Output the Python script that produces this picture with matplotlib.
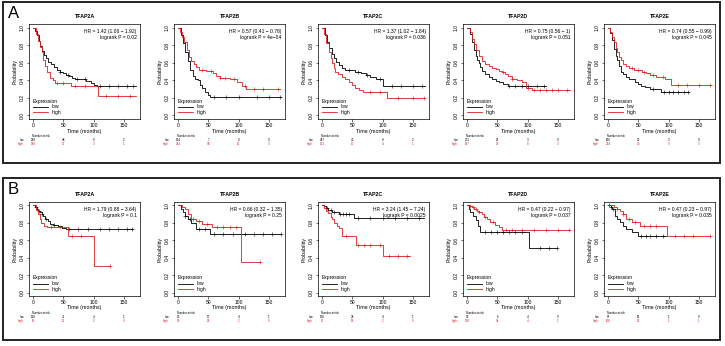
import numpy as np
import matplotlib
matplotlib.use('Agg')
import matplotlib.pyplot as plt
import matplotlib.transforms as mtransforms
from matplotlib.patches import Rectangle
from matplotlib.lines import Line2D

plt.rcParams['font.family'] = ['Liberation Sans', 'DejaVu Sans']

genes = ['TFAP2A', 'TFAP2B', 'TFAP2C', 'TFAP2D', 'TFAP2E']
risk_times = [0, 50, 100, 150]

# ---- panel A ----
A_hr = ['1.42 (1.06 \u2212 1.92)', '0.57 (0.41 \u2212 0.78)', '1.37 (1.02 \u2212 1.84)',
        '0.75 (0.56 \u2212 1)', '0.74 (0.55 \u2212 0.99)']
A_p = ['0.02', '4e\u221204', '0.036', '0.051', '0.045']
A_risk_low = [[258, 48, 8, 2], [134, 7, 0, 0], [247, 45, 8, 2], [201, 26, 3, 0], [160, 20, 3, 0]]
A_risk_high = [[140, 17, 3, 1], [264, 58, 11, 3], [151, 17, 4, 1], [197, 39, 8, 3], [224, 43, 9, 3]]

A1_low_t = [0, 3, 6, 9, 12, 15, 18, 21, 25, 30, 35, 40, 45, 50, 55, 60, 65, 70, 78, 88, 95, 100, 106, 170]
A1_low_s = [1, .96, .91, .85, .79, .73, .69, .65, .61, .58, .55, .52, .50, .48, .46, .45, .43, .42, .41, .39, .37, .35, .33, .33]
A1_low_c = [45, 58, 72, 85, 110, 125, 140, 155, 165]
A1_high_t = [0, 4, 8, 11, 14, 17, 20, 23, 27, 32, 36, 62, 108, 170]
A1_high_s = [1, .93, .85, .78, .72, .63, .56, .49, .43, .40, .37, .34, .22, .22]
A1_high_c = [40, 50, 70, 85, 120, 140, 160]

A2_low_t = [0, 4, 8, 12, 16, 20, 24, 28, 32, 36, 40, 45, 49, 53, 170]
A2_low_s = [1, .92, .82, .72, .62, .52, .45, .42, .40, .35, .31, .27, .23, .21, .21]
A2_low_c = [60, 80, 100, 130, 150, 168]
A2_high_t = [0, 3, 6, 10, 14, 18, 22, 26, 30, 35, 46, 57, 63, 69, 85, 97, 105, 113, 168]
A2_high_s = [1, .95, .89, .83, .75, .67, .62, .58, .55, .52, .51, .48, .45, .43, .42, .38, .33, .30, .30]
A2_high_c = [40, 55, 70, 78, 92, 110, 125, 140, 165]

A3_low_t = [0, 4, 8, 12, 16, 19, 23, 27, 32, 38, 55, 65, 72, 80, 89, 100, 170]
A3_low_s = [1, .92, .84, .77, .70, .65, .61, .57, .54, .52, .50, .48, .46, .44, .42, .33, .33]
A3_low_c = [45, 60, 75, 95, 115, 130, 150, 165]
A3_high_t = [0, 3, 7, 11, 14, 16, 19, 21, 26, 33, 38, 44, 50, 55, 61, 67, 108, 170]
A3_high_s = [1, .93, .82, .72, .65, .60, .54, .50, .47, .44, .41, .38, .35, .31, .29, .27, .20, .20]
A3_high_c = [80, 95, 125, 150, 168]

A4_low_t = [0, 4, 8, 11, 14, 17, 19, 22, 25, 30, 36, 41, 47, 52, 60, 68, 130]
A4_low_s = [1, .93, .83, .75, .68, .63, .60, .55, .51, .47, .44, .41, .39, .38, .36, .34, .34]
A4_low_c = [70, 80, 90, 100, 115, 128]
A4_high_t = [0, 4, 8, 11, 15, 19, 24, 30, 36, 41, 47, 52, 58, 63, 68, 74, 82, 90, 98, 107, 170]
A4_high_s = [1, .95, .87, .81, .74, .68, .62, .58, .56, .54, .53, .51, .49, .47, .45, .42, .40, .38, .31, .29, .29]
A4_high_c = [60, 75, 100, 110, 120, 130, 140, 150, 165]

A5_low_t = [0, 3, 6, 10, 13, 15, 18, 21, 25, 29, 34, 39, 45, 50, 55, 61, 69, 88, 134]
A5_low_s = [1, .94, .86, .76, .68, .63, .56, .50, .47, .44, .42, .41, .38, .36, .34, .32, .30, .27, .27]
A5_low_c = [75, 92, 100, 108, 115, 125, 133]
A5_high_t = [0, 3, 6, 10, 13, 15, 18, 21, 25, 29, 35, 42, 56, 62, 69, 80, 94, 104, 170]
A5_high_s = [1, .95, .89, .83, .77, .72, .67, .63, .59, .56, .54, .52, .50, .48, .46, .44, .41, .35, .35]
A5_high_c = [40, 50, 60, 75, 90, 115, 130, 150, 168]

# ---- panel B ----
B_hr = ['1.79 (0.88 \u2212 3.64)', '0.66 (0.32 \u2212 1.35)', '3.24 (1.45 \u2212 7.24)',
        '0.47 (0.22 \u2212 0.97)', '0.47 (0.23 \u2212 0.97)']
B_p = ['0.1', '0.25', '0.0025', '0.037', '0.035']
B_risk_low = [[128, 31, 4, 1], [93, 17, 4, 1], [130, 24, 4, 1], [52, 6, 4, 0], [87, 16, 1, 0]]
B_risk_high = [[62, 11, 2, 0], [97, 25, 2, 0], [67, 18, 2, 0], [138, 34, 4, 1], [100, 26, 1, 1]]

B1_low_t = [0, 3, 6, 8, 11, 14, 16, 20, 24, 28, 33, 41, 48, 54, 165]
B1_low_s = [1, .98, .96, .94, .92, .90, .88, .85, .82, .79, .78, .76, .74, .73, .73]
B1_low_c = [5, 10, 15, 22, 35, 60, 75, 90, 110, 125, 140, 155, 163]
B1_high_t = [0, 4, 8, 11, 13, 18, 23, 57, 101, 127]
B1_high_s = [1, .95, .90, .85, .80, .77, .75, .65, .31, .31]
B1_high_c = [30, 45, 65, 80, 127]

B2_low_t = [0, 4, 8, 12, 16, 22, 29, 53, 171]
B2_low_s = [1, .96, .92, .88, .85, .80, .73, .67, .67]
B2_low_c = [12, 20, 35, 45, 60, 75, 90, 110, 125, 140, 155, 170]
B2_high_t = [0, 6, 11, 16, 21, 30, 40, 56, 104, 136]
B2_high_s = [1, .98, .96, .90, .85, .82, .79, .75, .35, .35]
B2_high_c = [25, 35, 48, 65, 75, 85, 95, 136]

B3_low_t = [0, 3, 6, 10, 17, 27, 53, 168]
B3_low_s = [1, .99, .97, .95, .92, .90, .86, .86]
B3_low_c = [8, 14, 20, 30, 35, 40, 45, 60, 80, 100, 120, 140, 160]
B3_high_t = [0, 3, 6, 10, 14, 17, 20, 24, 27, 32, 56, 100, 145]
B3_high_s = [1, .97, .94, .91, .87, .84, .80, .77, .74, .65, .55, .42, .42]
B3_high_c = [40, 60, 70, 80, 95, 110, 125, 140]

B4_low_t = [0, 3, 5, 9, 14, 18, 22, 103, 149]
B4_low_s = [1, .96, .92, .88, .83, .76, .69, .51, .51]
B4_low_c = [30, 40, 50, 60, 70, 80, 90, 120, 135, 148]
B4_high_t = [0, 4, 8, 12, 16, 20, 24, 28, 33, 38, 46, 52, 57, 170]
B4_high_s = [1, .99, .98, .96, .94, .92, .90, .87, .84, .81, .78, .75, .72, .72]
B4_high_c = [5, 10, 15, 20, 30, 42, 65, 75, 90, 110, 130, 150, 168]

B5_low_t = [0, 4, 6, 11, 15, 19, 24, 29, 39, 50, 96]
B5_low_s = [1, .98, .96, .88, .85, .81, .77, .73, .69, .65, .65]
B5_low_c = [2, 5, 8, 55, 62, 70, 80, 90]
B5_high_t = [0, 9, 14, 19, 24, 29, 40, 52, 98, 168]
B5_high_s = [1, .98, .96, .94, .90, .85, .81, .77, .65, .65]
B5_high_c = [15, 25, 35, 45, 60, 70, 80, 110, 125, 140, 168]

A_curves = [
    ((A1_low_t, A1_low_s, A1_low_c), (A1_high_t, A1_high_s, A1_high_c)),
    ((A2_low_t, A2_low_s, A2_low_c), (A2_high_t, A2_high_s, A2_high_c)),
    ((A3_low_t, A3_low_s, A3_low_c), (A3_high_t, A3_high_s, A3_high_c)),
    ((A4_low_t, A4_low_s, A4_low_c), (A4_high_t, A4_high_s, A4_high_c)),
    ((A5_low_t, A5_low_s, A5_low_c), (A5_high_t, A5_high_s, A5_high_c)),
]
B_curves = [
    ((B1_low_t, B1_low_s, B1_low_c), (B1_high_t, B1_high_s, B1_high_c)),
    ((B2_low_t, B2_low_s, B2_low_c), (B2_high_t, B2_high_s, B2_high_c)),
    ((B3_low_t, B3_low_s, B3_low_c), (B3_high_t, B3_high_s, B3_high_c)),
    ((B4_low_t, B4_low_s, B4_low_c), (B4_high_t, B4_high_s, B4_high_c)),
    ((B5_low_t, B5_low_s, B5_low_c), (B5_high_t, B5_high_s, B5_high_c)),
]

LOW_C = 'black'
HIGH_C = '#dd1f1f'

W, H = 725, 346
fig = plt.figure(figsize=(W / 100, H / 100), dpi=100)


def px_axes(left, top, width, height):
    return fig.add_axes([left / W, 1 - (top + height) / H, width / W, height / H])


def km(ax, curve, color):
    t, s, cens = curve
    ax.step(t, s, where='post', color=color, lw=0.6)
    idx = np.searchsorted(t, cens, side='right') - 1
    ax.plot(cens, np.asarray(s)[idx], '+', color=color, ms=2.2, mew=0.4)


def below(tr, dy):
    # shift a transform down by dy pixels
    return mtransforms.offset_copy(tr, fig=fig, y=-dy, units='dots')


def draw_panel(ax, gene, curves, hr, p, rlow, rhigh):
    km(ax, curves[0], LOW_C)
    km(ax, curves[1], HIGH_C)
    ax.set_xlim(-7, 177)
    ax.set_ylim(-0.04, 1.04)
    ax.set_xticks([0, 50, 100, 150])
    ax.set_yticks([0, 0.2, 0.4, 0.6, 0.8, 1.0])
    ax.set_yticklabels(['0.0', '0.2', '0.4', '0.6', '0.8', '1.0'], rotation=90, va='center')
    ax.tick_params(labelsize=3.6, length=1.8, width=0.4, pad=1)
    for sp in ax.spines.values():
        sp.set_linewidth(0.5)
    ax.set_title(gene, fontsize=3.8, fontweight='bold', pad=4)
    ax.set_ylabel('Probability', fontsize=3.8, labelpad=1.5)
    ax.text(0.97, 0.95, f'HR = {hr}\nlogrank P = {p}', transform=ax.transAxes,
            ha='right', va='top', fontsize=3.6, linespacing=1.35)
    handles = [Line2D([], [], color=LOW_C, lw=0.6), Line2D([], [], color=HIGH_C, lw=0.6)]
    ax.legend(handles, ['low', 'high'], title='Expression', loc='lower left', frameon=False,
              fontsize=3.6, title_fontsize=3.6, handlelength=3, handletextpad=0.8,
              borderaxespad=0.4, labelspacing=0.15, alignment='left')
    ax.text(0.5, 0, 'Time (months)', transform=below(ax.transAxes, 12), ha='center',
            va='center', fontsize=3.8)
    xtr = ax.get_xaxis_transform()
    ax.text(-2, 0, 'Number at risk', transform=below(xtr, 17), ha='left', va='center',
            fontsize=2.0)
    ax.text(-0.045, 0, 'low', transform=below(ax.transAxes, 21),
            ha='right', va='center', fontsize=2.2, color=LOW_C)
    ax.text(-0.045, 0, 'high', transform=below(ax.transAxes, 25),
            ha='right', va='center', fontsize=2.2, color=HIGH_C)
    for t, nl, nh in zip(risk_times, rlow, rhigh):
        ax.text(t, 0, str(nl), transform=below(xtr, 21), ha='center', va='center',
                fontsize=2.2, color=LOW_C)
        ax.text(t, 0, str(nh), transform=below(xtr, 25), ha='center', va='center',
                fontsize=2.2, color=HIGH_C)


lefts = [29, 174, 318, 463, 604]
for i in range(5):
    ax = px_axes(lefts[i], 24, 111, 95)
    draw_panel(ax, genes[i], A_curves[i], A_hr[i], A_p[i], A_risk_low[i], A_risk_high[i])
    ax = px_axes(lefts[i], 202, 111, 94)
    draw_panel(ax, genes[i], B_curves[i], B_hr[i], B_p[i], B_risk_low[i], B_risk_high[i])

# panel frames and letters
for top, bottom, letter in [(2, 163, 'A'), (178, 340, 'B')]:
    fig.patches.append(Rectangle((3 / W, 1 - bottom / H), 717 / W, (bottom - top) / H,
                                 transform=fig.transFigure, fill=False, lw=1.4, ec='#222222'))
    fig.text(8 / W, 1 - (top + 12) / H, letter, fontsize=12, ha='left', va='center')

fig.savefig('out.png', dpi=100)
